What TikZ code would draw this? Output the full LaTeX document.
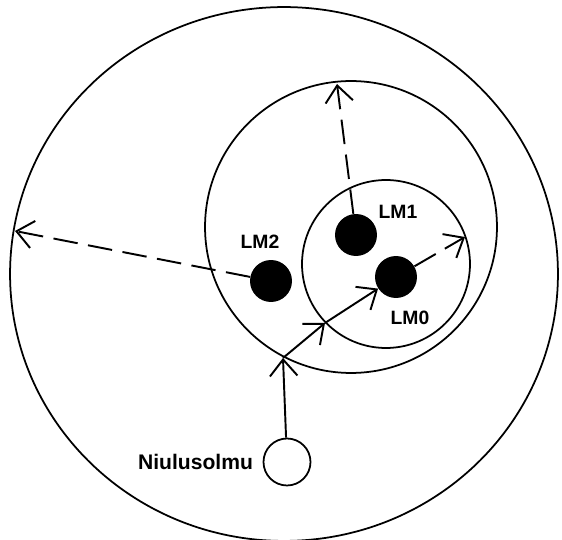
\documentclass[tikz,border=0pt]{standalone}
\usepackage{fontspec}
\setmainfont{Liberation Sans}
\usetikzlibrary{positioning,arrows.meta}
\tikzset{
  ring/.style={line width=1pt},
  landmark/.style={circle, fill=black, inner sep=0pt, minimum size=0.84cm},
  niulunode/.style={circle, draw, line width=1pt, fill=white, inner sep=0pt, minimum size=0.94cm},
  lmlabel/.style={font=\bfseries\fontsize{11}{13}\selectfont},
  ray/.style={->, line width=1.1pt},
  probe/.style={->, line width=1.1pt, dash pattern=on 14pt off 6pt},
  >={Straight Barb[length=3.3mm,width=5.5mm]},
}
\begin{document}
\begin{tikzpicture}[x=0.02cm,y=-0.02cm]
\useasboundingbox (0,0) rectangle (562,540);
% the three ranges
\draw[ring] (284,274) ellipse [x radius=5.48cm, y radius=5.34cm];
\draw[ring] (351,227) circle [radius=2.92cm];
\draw[ring] (386,264) circle [radius=1.68cm];
% landmarks
\node[landmark] (lmzero) at (396,277) {};
\node[landmark] (lmone) at (356,235) {};
\node[landmark] (lmtwo) at (271,281) {};
\node[lmlabel] at (410,318) {LM0};
\node[lmlabel] at (398,212) {LM1};
\node[lmlabel] at (260,242) {LM2};
% the new node
\node[niulunode] (niulu) at (287,462) {};
\node[lmlabel, font=\bfseries\fontsize{12}{14}\selectfont, left=2pt of niulu] {Niulusolmu};
% points on the rings
\coordinate (bigcross) at (283,358);
\coordinate (smallcross) at (325,323);
\coordinate (smallrim) at (465,237);
\coordinate (midrim) at (337,84);
\coordinate (bigrim) at (15,231);
% search path
\draw[ray] (niulu) -- (bigcross);
\draw[ray] (bigcross) -- (smallcross);
\draw[ray] (smallcross) -- (lmzero);
% ranges of the landmarks
\draw[probe] (lmzero) -- (smallrim);
\draw[probe] (lmone) -- (midrim);
\draw[probe] (lmtwo) -- (bigrim);
\end{tikzpicture}
\end{document}
